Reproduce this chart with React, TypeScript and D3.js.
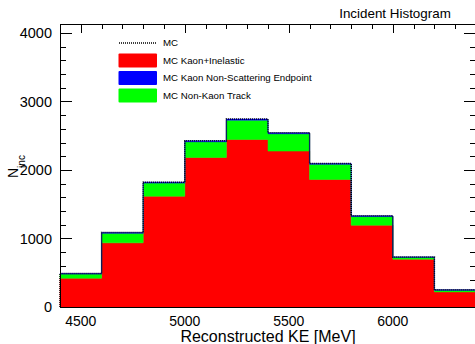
import React from 'react';
import * as d3 from 'd3';

// Bin edges of the reconstructed KE histogram [MeV]
const binEdges = [4400, 4600, 4800, 5000, 5200, 5400, 5600, 5800, 6000, 6200, 6400];

// Stack components (counts per bin)
const kaonInelastic = [420, 936, 1617, 2182, 2445, 2275, 1861, 1194, 698, 220];
const nonKaonTrack = [60, 140, 191, 229, 282, 253, 222, 126, 27, 25];
const kaonEndpoint = [10, 12, 14, 14, 15, 14, 12, 10, 6, 5];

// MC total (dotted outline)
const mcTotal = [490, 1088, 1822, 2425, 2742, 2542, 2095, 1330, 731, 250];

const xTickLabels = [4500, 5000, 5500, 6000];
const yTickLabels = [0, 1000, 2000, 3000, 4000];

const legendEntries = [
  { label: 'MC', color: null },
  { label: 'MC Kaon+Inelastic', color: '#ff0000' },
  { label: 'MC Kaon Non-Scattering Endpoint', color: '#0000ff' },
  { label: 'MC Non-Kaon Track', color: '#00ff00' }
];

const W = 475;
const H = 344;
const margin = { top: 24, right: -1, bottom: 37, left: 60 };
const FONT = '"Liberation Sans", Arial, Helvetica, sans-serif';

const App: React.FC = () => {
  const x0 = margin.left;
  const x1 = W - margin.right;
  const yTop = margin.top;
  const yBot = H - margin.bottom;

  const xScale = d3.scaleLinear().domain([4400, 6400]).range([x0, x1]);
  const yScale = d3.scaleLinear().domain([0, 4130]).range([yBot, yTop]);

  // table for d3.stack: red bottom, green, blue on top
  const table = kaonInelastic.map((v, i) => ({
    kaonInelastic: v,
    nonKaonTrack: nonKaonTrack[i],
    kaonEndpoint: kaonEndpoint[i]
  }));
  const keys = ['kaonInelastic', 'nonKaonTrack', 'kaonEndpoint'];
  const colors: Record<string, string> = {
    kaonInelastic: '#ff0000',
    nonKaonTrack: '#00ff00',
    kaonEndpoint: '#0000ff'
  };
  const series = d3.stack<any>().keys(keys)(table);

  const area = d3
    .area<{ x: number; y0: number; y1: number }>()
    .curve(d3.curveStepAfter)
    .x(d => xScale(d.x))
    .y0(d => yScale(d.y0))
    .y1(d => yScale(d.y1));

  const layerPath = (s: d3.Series<any, string>) => {
    const pts = s.map((d, i) => ({ x: binEdges[i], y0: d[0], y1: d[1] }));
    const last = s[s.length - 1];
    pts.push({ x: binEdges[binEdges.length - 1], y0: last[0], y1: last[1] });
    return area(pts) || '';
  };

  const line = d3
    .line<[number, number]>()
    .curve(d3.curveStepAfter)
    .x(d => xScale(d[0]))
    .y(d => yScale(d[1]));
  const mcPts: [number, number][] = [[binEdges[0], 0]];
  mcTotal.forEach((v, i) => mcPts.push([binEdges[i], v]));
  mcPts.push([binEdges[binEdges.length - 1], mcTotal[mcTotal.length - 1]]);
  mcPts.push([binEdges[binEdges.length - 1], 0]);

  const xTicks = xScale.ticks(20);
  const yTicks = yScale.ticks(20);
  const isMajorX = (v: number) => v % 500 === 0;
  const isMajorY = (v: number) => v % 1000 === 0;

  const px = (v: number) => Math.round(v) + 0.5;

  return (
    <svg
      width={W}
      height={H}
      style={{ position: 'absolute', left: 0, top: 0, background: '#fff' }}
      fontFamily={FONT}
    >
      <rect x={0} y={0} width={W} height={H} fill="#fff" />

      {/* ticks (under the histogram) */}
      <g stroke="#000" strokeWidth={1}>
        {xTicks.map(t => (
          <React.Fragment key={'xt' + t}>
            <line x1={px(xScale(t))} x2={px(xScale(t))} y1={yBot} y2={yBot - (isMajorX(t) ? 9 : 5)} />
            <line x1={px(xScale(t))} x2={px(xScale(t))} y1={yTop} y2={yTop + (isMajorX(t) ? 9 : 5)} />
          </React.Fragment>
        ))}
        {yTicks.map(t => (
          <React.Fragment key={'yt' + t}>
            <line x1={x0} x2={x0 + (isMajorY(t) ? 12 : 6)} y1={px(yScale(t))} y2={px(yScale(t))} />
            <line x1={x1} x2={x1 - (isMajorY(t) ? 12 : 6)} y1={px(yScale(t))} y2={px(yScale(t))} />
          </React.Fragment>
        ))}
      </g>

      {/* stacked histogram */}
      {series.map(s => (
        <path key={s.key} d={layerPath(s)} fill={colors[s.key]} stroke={colors[s.key]} strokeWidth={0.5} />
      ))}

      {/* MC total outline */}
      <path d={line(mcPts) || ''} fill="none" stroke="#000" strokeWidth={1.5} strokeDasharray="1 1" />

      {/* frame */}
      <g stroke="#000" strokeWidth={1} fill="none">
        <line x1={x0} x2={x1} y1={yTop + 0.5} y2={yTop + 0.5} />
        <line x1={x0} x2={x1} y1={yBot + 0.5} y2={yBot + 0.5} />
        <line x1={x0 + 0.5} x2={x0 + 0.5} y1={yTop} y2={yBot + 1} />
        <line x1={x1 + 0.5} x2={x1 + 0.5} y1={yTop} y2={yBot + 1} />
      </g>

      {/* axis labels */}
      {xTickLabels.map(t => (
        <text key={'xl' + t} x={xScale(t)} y={326} textAnchor="middle" fontSize={14} fill="#000">
          {t}
        </text>
      ))}
      {yTickLabels.map(t => (
        <text key={'yl' + t} x={52} y={yScale(t)} dy="0.35em" textAnchor="end" fontSize={14.5} fill="#000">
          {t}
        </text>
      ))}

      <text x={(x0 + x1) / 2} y={341.5} textAnchor="middle" fontSize={16} fill="#000">
        Reconstructed KE [MeV]
      </text>

      <g transform="translate(18,178) rotate(-90)">
        <text x={0} y={0} fontSize={14} fill="#000">
          N
          <tspan dy={7} fontSize={10}>inc</tspan>
        </text>
      </g>

      {/* title */}
      <text x={395} y={18} textAnchor="middle" fontSize={13.4} fill="#000">
        Incident Histogram
      </text>

      {/* legend */}
      <g>
        {legendEntries.map((e, i) => {
          const cy = 43 + i * 17.5;
          return (
            <g key={e.label}>
              {e.color ? (
                <rect x={118.5} y={cy - 7} width={38.5} height={14} rx={1} fill={e.color} />
              ) : (
                <line x1={119} x2={156} y1={cy} y2={cy} stroke="#000" strokeWidth={1.5} strokeDasharray="1 1" />
              )}
              <text x={163} y={cy} dy="0.35em" fontSize={9.7} fill="#000">
                {e.label}
              </text>
            </g>
          );
        })}
      </g>
    </svg>
  );
};

export default App;
